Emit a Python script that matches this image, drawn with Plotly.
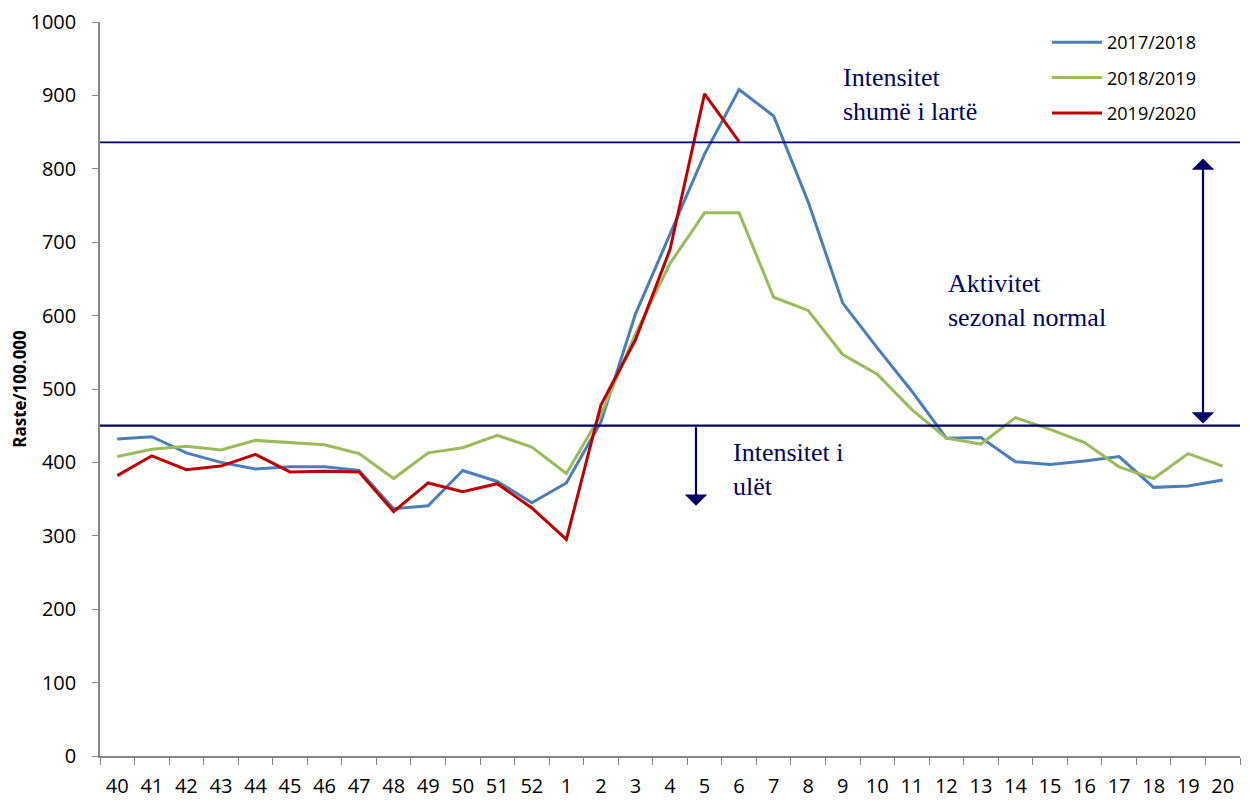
import plotly.graph_objects as go

weeks = ["40", "41", "42", "43", "44", "45", "46", "47", "48", "49", "50", "51", "52",
         "1", "2", "3", "4", "5", "6", "7", "8", "9", "10", "11", "12", "13", "14",
         "15", "16", "17", "18", "19", "20"]

s2017_2018 = [432, 435, 413, 400, 391, 394, 394, 389, 337, 341, 389, 374, 345,
              372, 455, 602, 711, 820, 908, 872, 755, 617, 556, 497, 433, 434, 401,
              397, 402, 408, 366, 368, 376]
s2018_2019 = [408, 418, 422, 417, 430, 427, 424, 412, 378, 413, 420, 437, 421,
              385, 465, 575, 671, 740, 740, 625, 607, 547, 520, 472, 433, 425, 461,
              445, 427, 394, 378, 412, 395]
s2019_2020 = [382, 409, 390, 395, 411, 387, 388, 387, 333, 372, 360, 371, 338,
              295, 478, 567, 690, 902, 837]

low_threshold = 450
high_threshold = 836

series = [("2017/2018", s2017_2018, "#4A7EBB"),
          ("2018/2019", s2018_2019, "#9BBB59"),
          ("2019/2020", s2019_2020, "#C00000")]

NAVY = "#000066"
TOP = 22      # window px of plot top
BOTTOM = 756  # window px of plot bottom
H = BOTTOM - TOP

fig = go.Figure()
for name, vals, col in series:
    fig.add_trace(go.Scatter(x=weeks[:len(vals)], y=vals, mode="lines", name=name,
                             legendgroup=name,
                             line=dict(color=col, width=3)))

for yv, w in [(low_threshold, 2.2), (high_threshold, 1.6)]:
    fig.add_shape(type="line", xref="paper", x0=0, x1=1, yref="y", y0=yv, y1=yv,
                  line=dict(color=NAVY, width=w))

serif = "Liberation Serif, Times New Roman, serif"
def txt(x_px, y_px, text):
    fig.add_annotation(xref="paper", yref="paper",
                       x=(x_px - 100) / 1140, y=(BOTTOM - y_px) / H,
                       xanchor="left", yanchor="middle", align="left",
                       text=text, showarrow=False,
                       font=dict(family=serif, size=26, color=NAVY))

txt(841, 94, "Intensitet<br>shumë i lartë")
txt(946, 300, "Aktivitet<br>sezonal normal")
txt(731, 469, "Intensitet i<br>ulët")

# double-headed arrow
xa = (1203 - 100) / 1140
fig.add_annotation(xref="x domain", yref="y", axref="x domain", ayref="y",
                   x=xa, y=814, ax=xa, ay=451,
                   showarrow=True, arrowhead=1, startarrowhead=1, arrowside="end+start",
                   arrowwidth=2.2, arrowsize=1.7, startarrowsize=1.7, arrowcolor=NAVY, text="")
# down arrow
xb = (696 - 100) / 1140
fig.add_annotation(xref="x domain", yref="y", axref="x domain", ayref="y",
                   x=xb, y=341, ax=xb, ay=450,
                   showarrow=True, arrowhead=1, arrowwidth=2.2, arrowsize=1.7,
                   arrowcolor=NAVY, text="")

sans = "Open Sans, Liberation Sans, Arial"
tickfont = dict(family=sans, size=20, color="#000000")
fig.update_layout(
    width=1242, height=792,
    margin=dict(l=92, r=10, t=TOP - 8, b=44, autoexpand=False),
    plot_bgcolor="white", paper_bgcolor="white",
    showlegend=True,
    legend=dict(x=(1047 - 100) / 1140, y=1 - 2 / H, xanchor="left", yanchor="top",
                traceorder="grouped", tracegroupgap=9, itemwidth=50,
                font=dict(family=sans, size=18, color="#000"),
                bgcolor="rgba(0,0,0,0)"),
    xaxis=dict(type="category", range=[-0.5, 32.5], showgrid=False, automargin=False,
               showline=True, linecolor="#868686", linewidth=1.5,
               ticks="outside", tickson="boundaries", ticklen=7, tickcolor="#868686",
               tickfont=tickfont, ticklabelstandoff=11, zeroline=False,
               ticklabeloverflow="allow"),
    yaxis=dict(range=[0, 1000], dtick=100, showgrid=False, automargin=False,
               showline=True, linecolor="#868686", linewidth=1.5,
               ticks="outside", ticklen=6, tickcolor="#868686",
               tickfont=tickfont, ticklabelstandoff=12, zeroline=False,
               ticklabeloverflow="allow",
               title=dict(text="<b>Raste/100.000</b>",
                          font=dict(family=sans, size=17, color="#000"),
                          standoff=4)),
)

fig.write_html("out.html")
